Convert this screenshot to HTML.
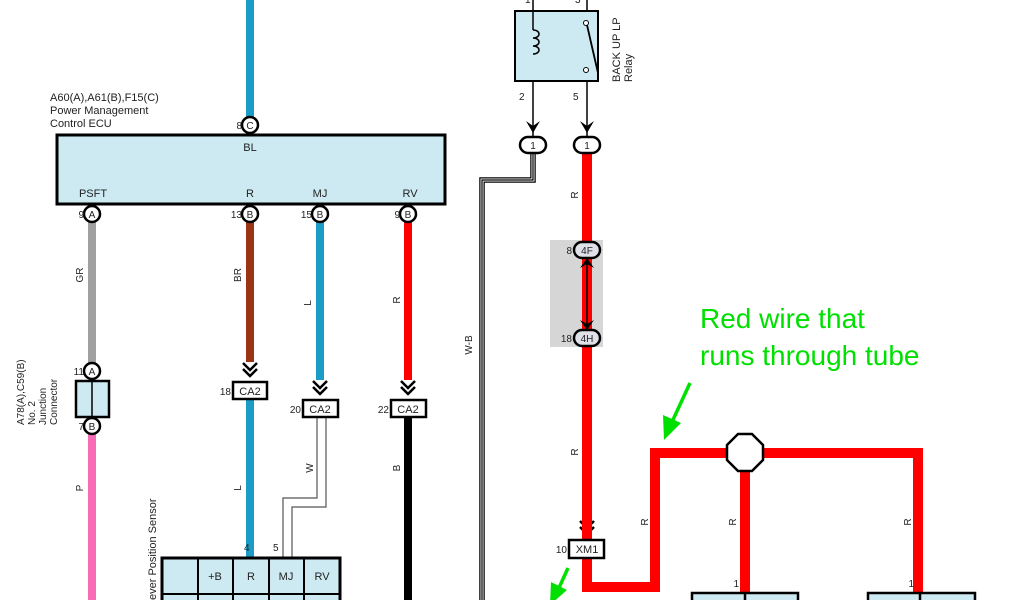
<!DOCTYPE html>
<html><head><meta charset="utf-8"><style>
html,body{margin:0;padding:0;background:#fff;width:1024px;height:600px;overflow:hidden}
svg{display:block}
text{font-family:"Liberation Sans",sans-serif;fill:#222}
</style></head><body>
<svg width="1024" height="600" viewBox="0 0 1024 600" xmlns="http://www.w3.org/2000/svg">
<!-- Wires left -->
<line x1="250" y1="0" x2="250" y2="118" stroke="#1b9cc6" stroke-width="8"/>
<line x1="92" y1="222" x2="92" y2="364" stroke="#a0a0a0" stroke-width="8"/>
<line x1="250" y1="222" x2="250" y2="362" stroke="#9a3412" stroke-width="8"/>
<line x1="320" y1="222" x2="320" y2="380" stroke="#1b9cc6" stroke-width="8"/>
<line x1="408" y1="222" x2="408" y2="380" stroke="#ff0000" stroke-width="8"/>
<line x1="92" y1="434" x2="92" y2="600" stroke="#f76cb4" stroke-width="8"/>
<line x1="250" y1="398" x2="250" y2="558" stroke="#1b9cc6" stroke-width="8"/>
<line x1="408" y1="416" x2="408" y2="600" stroke="#000" stroke-width="8"/>
<!-- W wire double -->
<path d="M317,416 V498 H283 V558" fill="none" stroke="#555" stroke-width="1.2"/>
<path d="M326,416 V507 H292 V558" fill="none" stroke="#555" stroke-width="1.2"/>
<!-- ECU -->
<rect x="57" y="135" width="388" height="69" fill="#cdeaf3" stroke="#000" stroke-width="3"/>
<text x="50" y="101" font-size="11">A60(A),A61(B),F15(C)</text>
<text x="50" y="114" font-size="11">Power Management</text>
<text x="50" y="127" font-size="11">Control ECU</text>
<text x="250" y="151" font-size="11" text-anchor="middle">BL</text>
<text x="93" y="197" font-size="11" text-anchor="middle">PSFT</text>
<text x="250" y="197" font-size="11" text-anchor="middle">R</text>
<text x="320" y="197" font-size="11" text-anchor="middle">MJ</text>
<text x="410" y="197" font-size="11" text-anchor="middle">RV</text>
<g stroke="#000" stroke-width="2.5" fill="#fff">
<circle cx="250" cy="125" r="8"/>
<circle cx="92" cy="214" r="8"/><circle cx="250" cy="214" r="8"/><circle cx="320" cy="214" r="8"/><circle cx="408" cy="214" r="8"/>
<circle cx="92" cy="371" r="8"/><circle cx="92" cy="426" r="8"/>
</g>
<g font-size="10" text-anchor="middle">
<text x="250" y="129">C</text><text x="92" y="218">A</text><text x="250" y="218">B</text><text x="320" y="218">B</text><text x="408" y="218">B</text>
<text x="92" y="375">A</text><text x="92" y="430">B</text>
</g>
<g font-size="10" text-anchor="end">
<text x="242" y="129">8</text><text x="84" y="218">9</text><text x="242" y="218">13</text><text x="312" y="218">15</text><text x="400" y="218">9</text>
<text x="84" y="375">11</text><text x="84" y="430">7</text>
</g>
<!-- junction -->
<rect x="76" y="381" width="33" height="36" fill="#cdeaf3" stroke="#000" stroke-width="2.5"/>
<line x1="92" y1="381" x2="92" y2="417" stroke="#000" stroke-width="1.5"/>
<g font-size="10">
<text transform="translate(24,425) rotate(-90)">A78(A),C59(B)</text>
<text transform="translate(35,425) rotate(-90)">No. 2</text>
<text transform="translate(46,425) rotate(-90)">Junction</text>
<text transform="translate(57,425) rotate(-90)">Connector</text>
</g>
<!-- chevrons -->
<g fill="none" stroke="#000" stroke-width="2.5">
<path d="M243,363 L250,370 L257,363 M243,369 L250,376 L257,369"/>
<path d="M313,381 L320,388 L327,381 M313,387 L320,394 L327,387"/>
<path d="M401,381 L408,388 L415,381 M401,387 L408,394 L415,387"/>
<path d="M580,521 L587,528 L594,521 M580,527 L587,534 L594,527"/>
</g>
<g stroke="#000" stroke-width="2.5" fill="#fff">
<rect x="233" y="382" width="34" height="17"/>
<rect x="303" y="400" width="35" height="17"/>
<rect x="391" y="400" width="35" height="17"/>
</g>
<g font-size="11" text-anchor="middle">
<text x="250" y="395">CA2</text><text x="320" y="413">CA2</text><text x="408" y="413">CA2</text>
</g>
<g font-size="10" text-anchor="end">
<text x="231" y="395">18</text><text x="301" y="413">20</text><text x="389" y="413">22</text>
</g>
<!-- wire labels -->
<g font-size="10" text-anchor="middle">
<text transform="translate(83,275) rotate(-90)">GR</text>
<text transform="translate(241,275) rotate(-90)">BR</text>
<text transform="translate(311,303) rotate(-90)">L</text>
<text transform="translate(400,300) rotate(-90)">R</text>
<text transform="translate(83,488) rotate(-90)">P</text>
<text transform="translate(241,488) rotate(-90)">L</text>
<text transform="translate(313,468) rotate(-90)">W</text>
<text transform="translate(400,468) rotate(-90)">B</text>
<text transform="translate(472,345) rotate(-90)">W-B</text>
<text transform="translate(578,195) rotate(-90)">R</text>
<text transform="translate(578,452) rotate(-90)">R</text>
<text transform="translate(648,522) rotate(-90)">R</text>
<text transform="translate(736,522) rotate(-90)">R</text>
<text transform="translate(911,522) rotate(-90)">R</text>
</g>
<!-- sensor -->
<rect x="162" y="558" width="178" height="50" fill="#cdeaf3" stroke="#000" stroke-width="3"/>
<g stroke="#000" stroke-width="2">
<line x1="198" y1="558" x2="198" y2="600"/><line x1="233" y1="558" x2="233" y2="600"/>
<line x1="269" y1="558" x2="269" y2="600"/><line x1="304" y1="558" x2="304" y2="600"/>
<line x1="162" y1="594" x2="340" y2="594"/>
</g>
<g font-size="11" text-anchor="middle">
<text x="215" y="580">+B</text><text x="251" y="580">R</text><text x="286" y="580">MJ</text><text x="322" y="580">RV</text>
</g>
<text x="244" y="551" font-size="10">4</text><text x="273" y="551" font-size="10">5</text>
<text transform="translate(156,600) rotate(-90)" font-size="11">ever Position Sensor</text>
<!-- relay -->
<line x1="533" y1="0" x2="533" y2="138" stroke="#000" stroke-width="1.5"/>
<line x1="587" y1="0" x2="587" y2="138" stroke="#000" stroke-width="1.5"/>
<rect x="515" y="11" width="83" height="70" fill="#cdeaf3" stroke="#000" stroke-width="2"/>
<line x1="533" y1="11" x2="533" y2="30" stroke="#000" stroke-width="1.5"/>
<path d="M533,30 c8,0 8,8 0,8 c8,0 8,8 0,8 c8,0 8,8 0,8" fill="none" stroke="#000" stroke-width="1.5"/>
<line x1="587" y1="25" x2="598" y2="73" stroke="#000" stroke-width="1.8"/>
<circle cx="586" cy="23" r="2.5" fill="#fff" stroke="#000"/><circle cx="586" cy="70" r="2.5" fill="#fff" stroke="#000"/>
<text transform="translate(620,82) rotate(-90)" font-size="11">BACK UP LP</text>
<text transform="translate(632,82) rotate(-90)" font-size="11">Relay</text>
<text x="519" y="100" font-size="10">2</text><text x="573" y="100" font-size="10">5</text>
<text x="525" y="3" font-size="10">1</text><text x="575" y="3" font-size="10">3</text>
<g fill="#000"><path d="M526,121 L533,133 L540,121 L533,126 Z"/><path d="M580,121 L587,133 L594,121 L587,126 Z"/></g>
<!-- W-B wire -->
<path d="M533,153 V180 H482 V600" fill="none" stroke="#000" stroke-width="5.5"/>
<path d="M533,153 V180 H482 V600" fill="none" stroke="#fff" stroke-width="3"/>
<path d="M533,153 V180 H482 V600" fill="none" stroke="#000" stroke-width="1.2"/>
<!-- red wire -->
<rect x="550" y="240" width="53" height="107" fill="#d6d6d6"/>
<path d="M587,153 V587 H655 V453 H918 V600" fill="none" stroke="#ff0000" stroke-width="10" stroke-linejoin="miter"/>
<line x1="745" y1="453" x2="745" y2="600" stroke="#ff0000" stroke-width="10"/>
<line x1="587" y1="262" x2="587" y2="326" stroke="#000" stroke-width="1.5"/>
<path d="M580,268 L587,258 L594,268 L587,264 Z M580,320 L587,330 L594,320 L587,324 Z" fill="#000"/>
<g stroke="#000" stroke-width="2.5" fill="#fff">
<rect x="520" y="137" width="26" height="16" rx="8"/>
<rect x="574" y="137" width="26" height="16" rx="8"/>
<rect x="574" y="242" width="26" height="16" rx="8" fill="#e0e0e8"/>
<rect x="574" y="330" width="26" height="16" rx="8" fill="#e0e0e8"/>
<rect x="569" y="540" width="35" height="18"/>
<path d="M738,434 L752,434 L763,445 L763,460 L752,471 L738,471 L727,460 L727,445 Z"/>
<rect x="692" y="593" width="106" height="12" fill="#cdeaf3"/>
<rect x="868" y="593" width="107" height="12" fill="#cdeaf3"/>
<line x1="745" y1="593" x2="745" y2="600"/><line x1="920" y1="593" x2="920" y2="600"/>
</g>
<g font-size="10" text-anchor="middle">
<text x="533" y="149">1</text><text x="587" y="149">1</text>
<text x="587" y="254">4F</text><text x="587" y="342">4H</text>
<text x="587" y="553" font-size="11">XM1</text>
</g>
<g font-size="10" text-anchor="end">
<text x="572" y="254">8</text><text x="572" y="342">18</text><text x="567" y="553">10</text>
<text x="739" y="587">1</text><text x="914" y="587">1</text>
</g>
<!-- annotation -->
<text x="700" y="328" font-size="28" style="fill:#00e000">Red wire that</text>
<text x="700" y="365" font-size="28" style="fill:#00e000">runs through tube</text>
<line x1="690" y1="383" x2="672" y2="422" stroke="#00e000" stroke-width="3.5"/>
<path d="M664,440 L663,415 L681,423 Z" fill="#00e000"/>
<line x1="568" y1="568" x2="558" y2="590" stroke="#00e000" stroke-width="3.5"/>
<path d="M550,605 L551,582 L567,590 Z" fill="#00e000"/>
</svg>
</body></html>
